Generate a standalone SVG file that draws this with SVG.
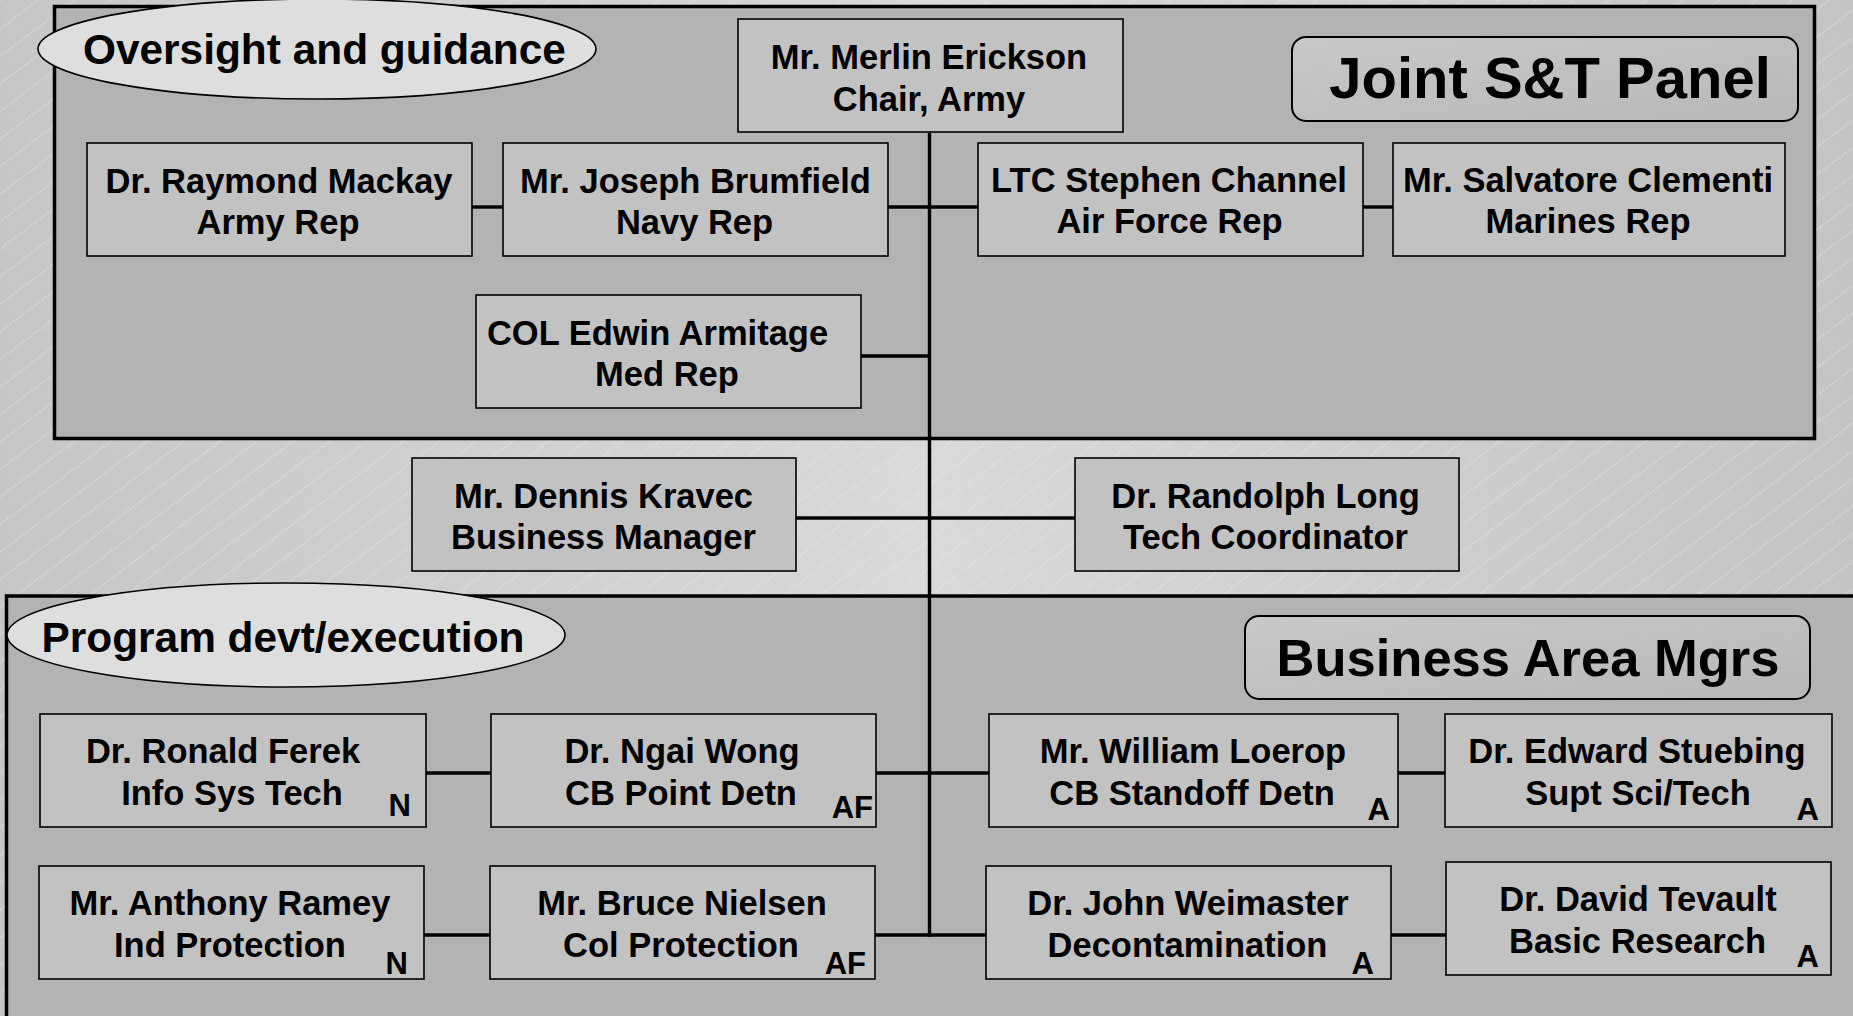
<svg xmlns="http://www.w3.org/2000/svg" width="1853" height="1016" viewBox="0 0 1853 1016">
<defs>
<linearGradient id="bg" x1="0" y1="0" x2="1" y2="0">
<stop offset="0" stop-color="#c6c6c6"/>
<stop offset="0.5" stop-color="#d9d9d9"/>
<stop offset="1" stop-color="#c4c4c4"/>
</linearGradient>
<pattern id="hatch" patternUnits="userSpaceOnUse" width="200" height="22" patternTransform="rotate(-37)">
<line x1="0" y1="1" x2="200" y2="1" stroke="#ececec" stroke-width="1" stroke-dasharray="3 1" opacity="0.55"/>
</pattern>
<linearGradient id="title" x1="0" y1="0" x2="1" y2="1">
<stop offset="0" stop-color="#c8c8c8"/>
<stop offset="1" stop-color="#b8b8b8"/>
</linearGradient>
</defs>
<style>
.panel{fill:#b3b3b3;stroke:#000;stroke-width:3.5}
.box{fill:#c2c2c2;stroke:#000;stroke-width:1.6}
.oval{fill:#dedede;stroke:#000;stroke-width:1.6}
.ttl{fill:url(#title);stroke:#000;stroke-width:2}
text{font-family:"Liberation Sans",Arial,sans-serif;font-weight:bold;fill:#000}
.t{font-size:34.5px;text-anchor:middle}
.tag{font-size:31px;text-anchor:end}
.lbl{font-size:42.4px}
.big{text-anchor:middle}
.conn{stroke:#000;stroke-width:3.4;fill:none}
</style>
<rect x="0" y="0" width="1853" height="1016" fill="url(#bg)"/>
<rect x="0" y="0" width="1853" height="1016" fill="url(#hatch)"/>

<g id="panel-joint">
<rect class="panel" x="54.5" y="6.5" width="1760" height="432"/>
</g>
<g id="panel-program">
<rect class="panel" x="6.5" y="596" width="1860" height="440"/>
</g>

<g id="connectors">
<line class="conn" x1="929.5" y1="133" x2="929.5" y2="936.7"/>
<line class="conn" x1="472" y1="207" x2="503" y2="207"/>
<line class="conn" x1="888" y1="207" x2="978" y2="207"/>
<line class="conn" x1="1362" y1="207" x2="1393" y2="207"/>
<line class="conn" x1="860" y1="356" x2="929.5" y2="356"/>
<line class="conn" x1="796" y1="518" x2="1075" y2="518"/>
<line class="conn" x1="426" y1="773" x2="491" y2="773"/>
<line class="conn" x1="876" y1="773" x2="989" y2="773"/>
<line class="conn" x1="1398" y1="773" x2="1445" y2="773"/>
<line class="conn" x1="424" y1="935" x2="490" y2="935"/>
<line class="conn" x1="875" y1="935" x2="986" y2="935"/>
<line class="conn" x1="1391" y1="935" x2="1446" y2="935"/>
</g>

<g id="label-oversight">
<ellipse class="oval" cx="317" cy="49" rx="279" ry="50"/>
<text class="lbl" x="83" y="64">Oversight and guidance</text>
</g>
<g id="label-program">
<ellipse class="oval" cx="286" cy="635" rx="279" ry="52"/>
<text class="lbl" x="41.5" y="652">Program devt/execution</text>
</g>
<g id="title-joint">
<rect class="ttl" x="1292" y="37" width="506" height="84" rx="14"/>
<text class="big" x="1550" y="98" font-size="58px">Joint S&amp;T Panel</text>
</g>
<g id="title-bam">
<rect class="ttl" x="1245" y="616" width="565" height="83" rx="14"/>
<text class="big" x="1528" y="676" font-size="52.5px">Business Area Mgrs</text>
</g>

<g id="node-erickson">
<rect class="box" x="738" y="19" width="385" height="113"/>
<text class="t" x="929" y="69">Mr. Merlin Erickson</text>
<text class="t" x="929" y="111">Chair, Army</text>
</g>
<g id="node-mackay">
<rect class="box" x="87" y="143" width="385" height="113"/>
<text class="t" x="279" y="193">Dr. Raymond Mackay</text>
<text class="t" x="278" y="234">Army Rep</text>
</g>
<g id="node-brumfield">
<rect class="box" x="503" y="143" width="385" height="113"/>
<text class="t" x="695.5" y="193">Mr. Joseph Brumfield</text>
<text class="t" x="694.5" y="234">Navy Rep</text>
</g>
<g id="node-channel">
<rect class="box" x="978" y="143" width="385" height="113"/>
<text class="t" x="1169" y="192">LTC Stephen Channel</text>
<text class="t" x="1169.5" y="233">Air Force Rep</text>
</g>
<g id="node-clementi">
<rect class="box" x="1393" y="143" width="392" height="113"/>
<text class="t" x="1588" y="192">Mr. Salvatore Clementi</text>
<text class="t" x="1588" y="233">Marines Rep</text>
</g>
<g id="node-armitage">
<rect class="box" x="476" y="295" width="385" height="113"/>
<text class="t" x="657.5" y="345">COL Edwin Armitage</text>
<text class="t" x="667" y="386">Med Rep</text>
</g>
<g id="node-kravec">
<rect class="box" x="412" y="458" width="384" height="113"/>
<text class="t" x="603.5" y="508">Mr. Dennis Kravec</text>
<text class="t" x="603.5" y="549">Business Manager</text>
</g>
<g id="node-long">
<rect class="box" x="1075" y="458" width="384" height="113"/>
<text class="t" x="1265.5" y="508">Dr. Randolph Long</text>
<text class="t" x="1265.5" y="549">Tech Coordinator</text>
</g>
<g id="node-ferek">
<rect class="box" x="40" y="714" width="386" height="113"/>
<text class="t" x="223" y="763">Dr. Ronald Ferek</text>
<text class="t" x="232" y="805">Info Sys Tech</text>
<text class="tag" x="411" y="816">N</text>
</g>
<g id="node-wong">
<rect class="box" x="491" y="714" width="385" height="113"/>
<text class="t" x="682" y="763">Dr. Ngai Wong</text>
<text class="t" x="681" y="805">CB Point Detn</text>
<text class="tag" x="873" y="818">AF</text>
</g>
<g id="node-ramey">
<rect class="box" x="39" y="866" width="385" height="113"/>
<text class="t" x="230" y="915">Mr. Anthony Ramey</text>
<text class="t" x="230" y="957">Ind Protection</text>
<text class="tag" x="408" y="974">N</text>
</g>
<g id="node-nielsen">
<rect class="box" x="490" y="866" width="385" height="113"/>
<text class="t" x="682" y="915">Mr. Bruce Nielsen</text>
<text class="t" x="681" y="957">Col Protection</text>
<text class="tag" x="866" y="974">AF</text>
</g>
<g id="node-loerop">
<rect class="box" x="989" y="714" width="409" height="113"/>
<text class="t" x="1193" y="763">Mr. William Loerop</text>
<text class="t" x="1192" y="805">CB Standoff Detn</text>
<text class="tag" x="1390" y="820">A</text>
</g>
<g id="node-stuebing">
<rect class="box" x="1445" y="714" width="387" height="113"/>
<text class="t" x="1637" y="763">Dr. Edward Stuebing</text>
<text class="t" x="1638" y="805">Supt Sci/Tech</text>
<text class="tag" x="1819" y="820">A</text>
</g>
<g id="node-weimaster">
<rect class="box" x="986" y="866" width="405" height="113"/>
<text class="t" x="1188" y="915">Dr. John Weimaster</text>
<text class="t" x="1187.5" y="957">Decontamination</text>
<text class="tag" x="1374" y="974">A</text>
</g>
<g id="node-tevault">
<rect class="box" x="1446" y="862" width="385" height="113"/>
<text class="t" x="1638" y="911">Dr. David Tevault</text>
<text class="t" x="1637.5" y="953">Basic Research</text>
<text class="tag" x="1819" y="967">A</text>
</g>
</svg>
